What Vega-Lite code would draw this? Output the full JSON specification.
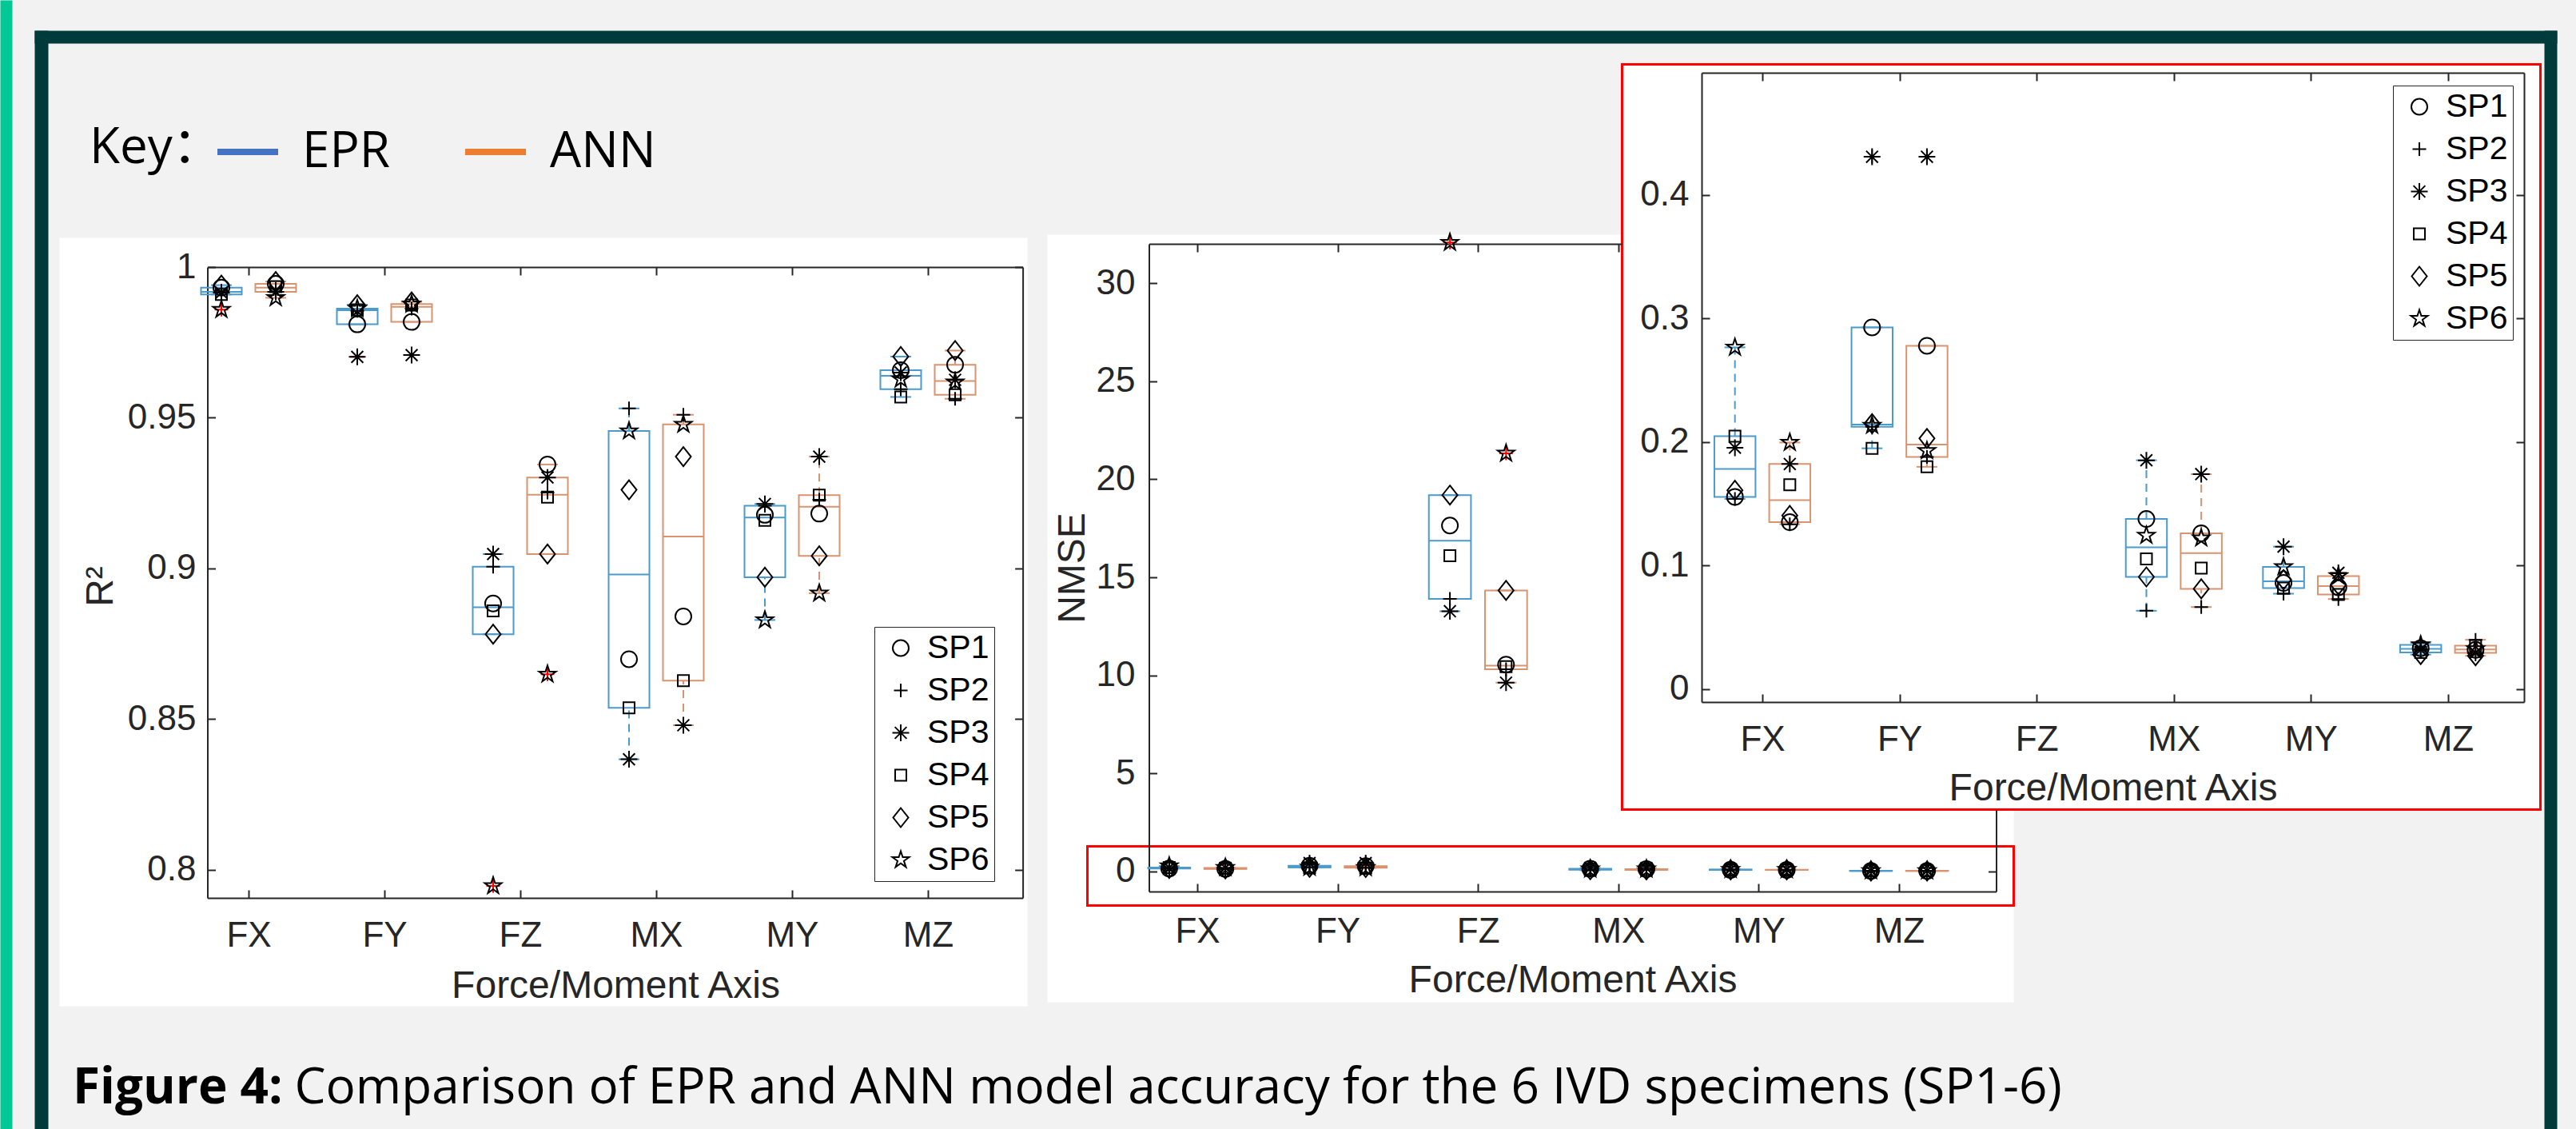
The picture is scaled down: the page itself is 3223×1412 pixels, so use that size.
{
"$schema": "https://vega.github.io/schema/vega-lite/v6.json",
"width": 3223, "height": 1412, "autosize": {"type": "none"}, "padding": 0,
"background": "#f2f2f2",
"config": {
  "view": {"stroke": null},
  "axis": {"grid": false, "domainColor": "#262626", "domainWidth": 2, "tickColor": "#262626", "tickWidth": 2, "tickSize": -10, "labelColor": "#262626", "labelFont": "Liberation Sans", "labelFontSize": 44, "titleColor": "#262626", "titleFont": "Liberation Sans", "titleFontSize": 48, "titleFontWeight": "normal", "labelFlush": false, "labelOverlap": false, "labelBound": false},
  "legend": {"labelFont": "Liberation Sans"}
},
"title": {"text": "Figure 4:", "orient": "bottom", "anchor": "start", "frame": "group", "offset": -81, "dx": 91, "font": "Open Sans", "fontSize": 62, "fontWeight": "bold", "color": "#000000"},
"datasets": {
"pts": [
{"m":"R2","axis":"FX","model":"EPR","sp":"SP1","v":0.9932},{"m":"R2","axis":"FX","model":"EPR","sp":"SP2","v":0.9921},{"m":"R2","axis":"FX","model":"EPR","sp":"SP3","v":0.9915},{"m":"R2","axis":"FX","model":"EPR","sp":"SP4","v":0.9909},{"m":"R2","axis":"FX","model":"EPR","sp":"SP5","v":0.994},{"m":"R2","axis":"FX","model":"EPR","sp":"SP6","v":0.9859,"out":true},
{"m":"R2","axis":"FX","model":"ANN","sp":"SP1","v":0.9944},{"m":"R2","axis":"FX","model":"ANN","sp":"SP2","v":0.9928},{"m":"R2","axis":"FX","model":"ANN","sp":"SP3","v":0.9918},{"m":"R2","axis":"FX","model":"ANN","sp":"SP4","v":0.9935},{"m":"R2","axis":"FX","model":"ANN","sp":"SP5","v":0.9952},{"m":"R2","axis":"FX","model":"ANN","sp":"SP6","v":0.9898},
{"m":"R2","axis":"FY","model":"EPR","sp":"SP1","v":0.981},{"m":"R2","axis":"FY","model":"EPR","sp":"SP2","v":0.9855},{"m":"R2","axis":"FY","model":"EPR","sp":"SP3","v":0.9702,"out":true},{"m":"R2","axis":"FY","model":"EPR","sp":"SP4","v":0.9858},{"m":"R2","axis":"FY","model":"EPR","sp":"SP5","v":0.9875},{"m":"R2","axis":"FY","model":"EPR","sp":"SP6","v":0.9862},
{"m":"R2","axis":"FY","model":"ANN","sp":"SP1","v":0.9818},{"m":"R2","axis":"FY","model":"ANN","sp":"SP2","v":0.9862},{"m":"R2","axis":"FY","model":"ANN","sp":"SP3","v":0.9708,"out":true},{"m":"R2","axis":"FY","model":"ANN","sp":"SP4","v":0.9874},{"m":"R2","axis":"FY","model":"ANN","sp":"SP5","v":0.9884},{"m":"R2","axis":"FY","model":"ANN","sp":"SP6","v":0.9877},
{"m":"R2","axis":"FZ","model":"EPR","sp":"SP1","v":0.8884},{"m":"R2","axis":"FZ","model":"EPR","sp":"SP2","v":0.9006},{"m":"R2","axis":"FZ","model":"EPR","sp":"SP3","v":0.9048},{"m":"R2","axis":"FZ","model":"EPR","sp":"SP4","v":0.8859},{"m":"R2","axis":"FZ","model":"EPR","sp":"SP5","v":0.8782},{"m":"R2","axis":"FZ","model":"EPR","sp":"SP6","v":0.7947,"out":true},
{"m":"R2","axis":"FZ","model":"ANN","sp":"SP1","v":0.9345},{"m":"R2","axis":"FZ","model":"ANN","sp":"SP2","v":0.9252},{"m":"R2","axis":"FZ","model":"ANN","sp":"SP3","v":0.9302},{"m":"R2","axis":"FZ","model":"ANN","sp":"SP4","v":0.9237},{"m":"R2","axis":"FZ","model":"ANN","sp":"SP5","v":0.9048},{"m":"R2","axis":"FZ","model":"ANN","sp":"SP6","v":0.8649,"out":true},
{"m":"R2","axis":"MX","model":"EPR","sp":"SP1","v":0.8699},{"m":"R2","axis":"MX","model":"EPR","sp":"SP2","v":0.9531},{"m":"R2","axis":"MX","model":"EPR","sp":"SP3","v":0.8367},{"m":"R2","axis":"MX","model":"EPR","sp":"SP4","v":0.8538},{"m":"R2","axis":"MX","model":"EPR","sp":"SP5","v":0.9261},{"m":"R2","axis":"MX","model":"EPR","sp":"SP6","v":0.9456},
{"m":"R2","axis":"MX","model":"ANN","sp":"SP1","v":0.8841},{"m":"R2","axis":"MX","model":"ANN","sp":"SP2","v":0.951},{"m":"R2","axis":"MX","model":"ANN","sp":"SP3","v":0.848},{"m":"R2","axis":"MX","model":"ANN","sp":"SP4","v":0.8628},{"m":"R2","axis":"MX","model":"ANN","sp":"SP5","v":0.9371},{"m":"R2","axis":"MX","model":"ANN","sp":"SP6","v":0.9478},
{"m":"R2","axis":"MY","model":"EPR","sp":"SP1","v":0.9178},{"m":"R2","axis":"MY","model":"EPR","sp":"SP2","v":0.9208},{"m":"R2","axis":"MY","model":"EPR","sp":"SP3","v":0.9214},{"m":"R2","axis":"MY","model":"EPR","sp":"SP4","v":0.916},{"m":"R2","axis":"MY","model":"EPR","sp":"SP5","v":0.8971},{"m":"R2","axis":"MY","model":"EPR","sp":"SP6","v":0.8829},
{"m":"R2","axis":"MY","model":"ANN","sp":"SP1","v":0.9182},{"m":"R2","axis":"MY","model":"ANN","sp":"SP2","v":0.9228},{"m":"R2","axis":"MY","model":"ANN","sp":"SP3","v":0.9371},{"m":"R2","axis":"MY","model":"ANN","sp":"SP4","v":0.9243},{"m":"R2","axis":"MY","model":"ANN","sp":"SP5","v":0.9042},{"m":"R2","axis":"MY","model":"ANN","sp":"SP6","v":0.8918},
{"m":"R2","axis":"MZ","model":"EPR","sp":"SP1","v":0.9658},{"m":"R2","axis":"MZ","model":"EPR","sp":"SP2","v":0.9595},{"m":"R2","axis":"MZ","model":"EPR","sp":"SP3","v":0.965},{"m":"R2","axis":"MZ","model":"EPR","sp":"SP4","v":0.9569},{"m":"R2","axis":"MZ","model":"EPR","sp":"SP5","v":0.9703},{"m":"R2","axis":"MZ","model":"EPR","sp":"SP6","v":0.9628},
{"m":"R2","axis":"MZ","model":"ANN","sp":"SP1","v":0.9676},{"m":"R2","axis":"MZ","model":"ANN","sp":"SP2","v":0.9563},{"m":"R2","axis":"MZ","model":"ANN","sp":"SP3","v":0.9626},{"m":"R2","axis":"MZ","model":"ANN","sp":"SP4","v":0.9576},{"m":"R2","axis":"MZ","model":"ANN","sp":"SP5","v":0.9723},{"m":"R2","axis":"MZ","model":"ANN","sp":"SP6","v":0.9618},
{"m":"NMSE","axis":"FX","model":"EPR","sp":"SP1","v":0.1557},{"m":"NMSE","axis":"FX","model":"EPR","sp":"SP2","v":0.154},{"m":"NMSE","axis":"FX","model":"EPR","sp":"SP3","v":0.1955},{"m":"NMSE","axis":"FX","model":"EPR","sp":"SP4","v":0.2048},{"m":"NMSE","axis":"FX","model":"EPR","sp":"SP5","v":0.161},{"m":"NMSE","axis":"FX","model":"EPR","sp":"SP6","v":0.2767},
{"m":"NMSE","axis":"FX","model":"ANN","sp":"SP1","v":0.1352},{"m":"NMSE","axis":"FX","model":"ANN","sp":"SP2","v":0.1335},{"m":"NMSE","axis":"FX","model":"ANN","sp":"SP3","v":0.1823},{"m":"NMSE","axis":"FX","model":"ANN","sp":"SP4","v":0.1655},{"m":"NMSE","axis":"FX","model":"ANN","sp":"SP5","v":0.1406},{"m":"NMSE","axis":"FX","model":"ANN","sp":"SP6","v":0.1997},
{"m":"NMSE","axis":"FY","model":"EPR","sp":"SP1","v":0.2929},{"m":"NMSE","axis":"FY","model":"EPR","sp":"SP2","v":0.2125},{"m":"NMSE","axis":"FY","model":"EPR","sp":"SP3","v":0.431,"out":true},{"m":"NMSE","axis":"FY","model":"EPR","sp":"SP4","v":0.195},{"m":"NMSE","axis":"FY","model":"EPR","sp":"SP5","v":0.215},{"m":"NMSE","axis":"FY","model":"EPR","sp":"SP6","v":0.2135},
{"m":"NMSE","axis":"FY","model":"ANN","sp":"SP1","v":0.278},{"m":"NMSE","axis":"FY","model":"ANN","sp":"SP2","v":0.188},{"m":"NMSE","axis":"FY","model":"ANN","sp":"SP3","v":0.431,"out":true},{"m":"NMSE","axis":"FY","model":"ANN","sp":"SP4","v":0.18},{"m":"NMSE","axis":"FY","model":"ANN","sp":"SP5","v":0.203},{"m":"NMSE","axis":"FY","model":"ANN","sp":"SP6","v":0.193},
{"m":"NMSE","axis":"FZ","model":"EPR","sp":"SP1","v":17.64},{"m":"NMSE","axis":"FZ","model":"EPR","sp":"SP2","v":13.9},{"m":"NMSE","axis":"FZ","model":"EPR","sp":"SP3","v":13.27},{"m":"NMSE","axis":"FZ","model":"EPR","sp":"SP4","v":16.1},{"m":"NMSE","axis":"FZ","model":"EPR","sp":"SP5","v":19.19},{"m":"NMSE","axis":"FZ","model":"EPR","sp":"SP6","v":32.07,"out":true},
{"m":"NMSE","axis":"FZ","model":"ANN","sp":"SP1","v":10.55},{"m":"NMSE","axis":"FZ","model":"ANN","sp":"SP2","v":10.31},{"m":"NMSE","axis":"FZ","model":"ANN","sp":"SP3","v":9.63},{"m":"NMSE","axis":"FZ","model":"ANN","sp":"SP4","v":10.45},{"m":"NMSE","axis":"FZ","model":"ANN","sp":"SP5","v":14.33},{"m":"NMSE","axis":"FZ","model":"ANN","sp":"SP6","v":21.32,"out":true},
{"m":"NMSE","axis":"MX","model":"EPR","sp":"SP1","v":0.1378},{"m":"NMSE","axis":"MX","model":"EPR","sp":"SP2","v":0.0635},{"m":"NMSE","axis":"MX","model":"EPR","sp":"SP3","v":0.1853},{"m":"NMSE","axis":"MX","model":"EPR","sp":"SP4","v":0.1054},{"m":"NMSE","axis":"MX","model":"EPR","sp":"SP5","v":0.0909},{"m":"NMSE","axis":"MX","model":"EPR","sp":"SP6","v":0.1244},
{"m":"NMSE","axis":"MX","model":"ANN","sp":"SP1","v":0.1262},{"m":"NMSE","axis":"MX","model":"ANN","sp":"SP2","v":0.0665},{"m":"NMSE","axis":"MX","model":"ANN","sp":"SP3","v":0.1741},{"m":"NMSE","axis":"MX","model":"ANN","sp":"SP4","v":0.098},{"m":"NMSE","axis":"MX","model":"ANN","sp":"SP5","v":0.0812},{"m":"NMSE","axis":"MX","model":"ANN","sp":"SP6","v":0.1223},
{"m":"NMSE","axis":"MY","model":"EPR","sp":"SP1","v":0.086},{"m":"NMSE","axis":"MY","model":"EPR","sp":"SP2","v":0.0773},{"m":"NMSE","axis":"MY","model":"EPR","sp":"SP3","v":0.1154},{"m":"NMSE","axis":"MY","model":"EPR","sp":"SP4","v":0.0819},{"m":"NMSE","axis":"MY","model":"EPR","sp":"SP5","v":0.0886},{"m":"NMSE","axis":"MY","model":"EPR","sp":"SP6","v":0.099},
{"m":"NMSE","axis":"MY","model":"ANN","sp":"SP1","v":0.0825},{"m":"NMSE","axis":"MY","model":"ANN","sp":"SP2","v":0.073},{"m":"NMSE","axis":"MY","model":"ANN","sp":"SP3","v":0.0942},{"m":"NMSE","axis":"MY","model":"ANN","sp":"SP4","v":0.0767},{"m":"NMSE","axis":"MY","model":"ANN","sp":"SP5","v":0.0843},{"m":"NMSE","axis":"MY","model":"ANN","sp":"SP6","v":0.0916},
{"m":"NMSE","axis":"MZ","model":"EPR","sp":"SP1","v":0.0332},{"m":"NMSE","axis":"MZ","model":"EPR","sp":"SP2","v":0.0375},{"m":"NMSE","axis":"MZ","model":"EPR","sp":"SP3","v":0.032},{"m":"NMSE","axis":"MZ","model":"EPR","sp":"SP4","v":0.0298},{"m":"NMSE","axis":"MZ","model":"EPR","sp":"SP5","v":0.028},{"m":"NMSE","axis":"MZ","model":"EPR","sp":"SP6","v":0.0358},
{"m":"NMSE","axis":"MZ","model":"ANN","sp":"SP1","v":0.0318},{"m":"NMSE","axis":"MZ","model":"ANN","sp":"SP2","v":0.04},{"m":"NMSE","axis":"MZ","model":"ANN","sp":"SP3","v":0.0294},{"m":"NMSE","axis":"MZ","model":"ANN","sp":"SP4","v":0.0352},{"m":"NMSE","axis":"MZ","model":"ANN","sp":"SP5","v":0.027},{"m":"NMSE","axis":"MZ","model":"ANN","sp":"SP6","v":0.0326}
],
"box": [
{"m":"R2","axis":"FX","model":"EPR","lo":0.9909,"q1":0.9909,"med":0.9918,"q3":0.9932,"hi":0.994},
{"m":"R2","axis":"FX","model":"ANN","lo":0.9898,"q1":0.9918,"med":0.99315,"q3":0.9944,"hi":0.9952},
{"m":"R2","axis":"FY","model":"EPR","lo":0.981,"q1":0.981,"med":0.98565,"q3":0.9862,"hi":0.9875},
{"m":"R2","axis":"FY","model":"ANN","lo":0.9818,"q1":0.9818,"med":0.9868,"q3":0.9877,"hi":0.9884},
{"m":"R2","axis":"FZ","model":"EPR","lo":0.8782,"q1":0.8782,"med":0.88715,"q3":0.9006,"hi":0.9048},
{"m":"R2","axis":"FZ","model":"ANN","lo":0.9048,"q1":0.9048,"med":0.92445,"q3":0.9302,"hi":0.9345},
{"m":"R2","axis":"MX","model":"EPR","lo":0.8367,"q1":0.8538,"med":0.898,"q3":0.9456,"hi":0.9531},
{"m":"R2","axis":"MX","model":"ANN","lo":0.848,"q1":0.8628,"med":0.9106,"q3":0.9478,"hi":0.951},
{"m":"R2","axis":"MY","model":"EPR","lo":0.8829,"q1":0.8971,"med":0.9169,"q3":0.9208,"hi":0.9214},
{"m":"R2","axis":"MY","model":"ANN","lo":0.8918,"q1":0.9042,"med":0.9205,"q3":0.9243,"hi":0.9371},
{"m":"R2","axis":"MZ","model":"EPR","lo":0.9569,"q1":0.9595,"med":0.9639,"q3":0.9658,"hi":0.9703},
{"m":"R2","axis":"MZ","model":"ANN","lo":0.9563,"q1":0.9576,"med":0.9622,"q3":0.9676,"hi":0.9723},
{"m":"NMSE","axis":"FX","model":"EPR","lo":0.154,"q1":0.1557,"med":0.17825,"q3":0.2048,"hi":0.2767},
{"m":"NMSE","axis":"FX","model":"ANN","lo":0.1335,"q1":0.1352,"med":0.15305,"q3":0.1823,"hi":0.1997},
{"m":"NMSE","axis":"FY","model":"EPR","lo":0.195,"q1":0.2125,"med":0.21425,"q3":0.2929,"hi":0.2929},
{"m":"NMSE","axis":"FY","model":"ANN","lo":0.18,"q1":0.188,"med":0.198,"q3":0.278,"hi":0.278},
{"m":"NMSE","axis":"FZ","model":"EPR","lo":13.27,"q1":13.9,"med":16.87,"q3":19.19,"hi":19.19},
{"m":"NMSE","axis":"FZ","model":"ANN","lo":9.63,"q1":10.31,"med":10.5,"q3":14.33,"hi":14.33},
{"m":"NMSE","axis":"MX","model":"EPR","lo":0.0635,"q1":0.0909,"med":0.1149,"q3":0.1378,"hi":0.1853},
{"m":"NMSE","axis":"MX","model":"ANN","lo":0.0665,"q1":0.0812,"med":0.11015,"q3":0.1262,"hi":0.1741},
{"m":"NMSE","axis":"MY","model":"EPR","lo":0.0773,"q1":0.0819,"med":0.0873,"q3":0.099,"hi":0.1154},
{"m":"NMSE","axis":"MY","model":"ANN","lo":0.073,"q1":0.0767,"med":0.0834,"q3":0.0916,"hi":0.0942},
{"m":"NMSE","axis":"MZ","model":"EPR","lo":0.028,"q1":0.0298,"med":0.0326,"q3":0.0358,"hi":0.0375},
{"m":"NMSE","axis":"MZ","model":"ANN","lo":0.027,"q1":0.0294,"med":0.0322,"q3":0.0352,"hi":0.04}
]
},
"resolve": {"scale": {"x": "independent", "y": "independent", "xOffset": "independent", "shape": "independent", "stroke": "independent", "color": "independent"}},
"layer": [
{"data": {"values": [{}]}, "mark": {"type": "point", "opacity": 0},
 "encoding": {
  "x": {"datum": 0, "type": "quantitative", "scale": {"domain": [0, 1], "range": [43, 3199]}, "axis": {"orient": "top", "offset": -46, "ticks": false, "labels": false, "domainColor": "#003b3c", "domainWidth": 16, "domainCap": "butt",
        "title": "Comparison of EPR and ANN model accuracy for the 6 IVD specimens (SP1-6)", "titleX": 368, "titleY": 1333, "titleAlign": "left", "titleBaseline": "alphabetic", "titleAngle": 0, "titleFont": "Open Sans", "titleFontSize": 62, "titleFontWeight": "normal", "titleColor": "#000000"}},
  "y": {"datum": 0, "type": "quantitative", "scale": {"domain": [0, 1], "range": [0, 1412]}, "axis": {"orient": "left", "offset": -7.5, "ticks": false, "labels": false, "title": null, "domainColor": "#00c896", "domainWidth": 15, "domainCap": "butt"}}
 }},
{"data": {"values": [{}]}, "mark": {"type": "point", "opacity": 0},
 "encoding": {
  "x": {"datum": 0, "type": "quantitative", "scale": {"domain": [0, 1], "range": [74, 1285]}, "axis": {"orient": "top", "offset": -777.5, "ticks": false, "labels": false, "title": null, "domainColor": "#ffffff", "domainWidth": 961, "domainCap": "butt"}},
  "y": {"datum": 0, "type": "quantitative", "scale": {"domain": [0, 1], "range": [38, 1412]}, "axis": {"orient": "left", "offset": -51.5, "ticks": false, "labels": false, "title": null, "domainColor": "#003b3c", "domainWidth": 17, "domainCap": "butt"}}
 }},
{"data": {"values": [{}]}, "mark": {"type": "point", "opacity": 0},
 "encoding": {
  "x": {"datum": 0, "type": "quantitative", "scale": {"domain": [0, 1], "range": [1310, 2519]}, "axis": {"orient": "top", "offset": -773, "ticks": false, "labels": false, "title": null, "domainColor": "#ffffff", "domainWidth": 960, "domainCap": "butt"}},
  "y": {"datum": 0, "type": "quantitative", "scale": {"domain": [0, 1], "range": [38, 1412]}, "axis": {"orient": "left", "offset": -3191, "ticks": false, "labels": false, "title": null, "domainColor": "#003b3c", "domainWidth": 16, "domainCap": "butt"}}
 }},
{"data": {"values": [{}]}, "mark": {"type": "point", "opacity": 0},
 "encoding": {
  "x": {"datum": 0, "type": "quantitative", "scale": {"domain": [0, 1], "range": [2027.5, 3179.5]}, "axis": {"orient": "top", "offset": -546, "ticks": false, "labels": false, "title": null, "domainColor": "#ff0000", "domainWidth": 935, "domainCap": "butt"}}
 }},
{"data": {"values": [{}]}, "mark": {"type": "point", "opacity": 0},
 "encoding": {
  "x": {"datum": 0, "type": "quantitative", "scale": {"domain": [0, 1], "range": [2030.5, 3176.5]}, "axis": {"orient": "top", "offset": -546, "ticks": false, "labels": false, "title": null, "domainColor": "#ffffff", "domainWidth": 929, "domainCap": "butt"}}
 }},
{"data": {"values": [{}]}, "mark": {"type": "point", "opacity": 0},
 "encoding": {
  "x": {"datum": 1, "type": "quantitative", "scale": {"domain": [0.697, 6.698], "range": [259.5, 1279.6], "nice": false, "zero": false},
        "axis": {"orient": "bottom", "offset": -289, "values": [1, 2, 3, 4, 5, 6], "labelExpr": "['FX','FY','FZ','MX','MY','MZ'][datum.value - 1]", "labelPadding": 35, "title": "Force/Moment Axis", "titleX": 770, "titleY": 124, "titleAlign": "center", "titleBaseline": "alphabetic"}},
  "y": {"datum": 1, "type": "quantitative", "scale": {"domain": [0.7907, 1], "range": [1123, 334], "nice": false, "zero": false},
        "axis": {"orient": "left", "offset": -259.5, "values": [0.8, 0.85, 0.9, 0.95, 1], "format": "~g", "labelPadding": 24.5, "title": "R²", "titleX": -119.5, "titleY": 733, "titleAlign": "center", "titleBaseline": "alphabetic", "titleAngle": -90}}
 }},
{"data": {"values": [{}]}, "mark": {"type": "point", "opacity": 0},
 "encoding": {
  "x": {"datum": 1, "type": "quantitative", "scale": {"domain": [0.697, 6.698], "range": [259.5, 1279.6], "nice": false, "zero": false},
        "axis": {"orient": "top", "offset": -334, "values": [1, 2, 3, 4, 5, 6], "labels": false, "title": null}},
  "y": {"datum": 1, "type": "quantitative", "scale": {"domain": [0.7907, 1], "range": [1123, 334], "nice": false, "zero": false},
        "axis": {"orient": "right", "offset": -1943.4, "values": [0.8, 0.85, 0.9, 0.95, 1], "labels": false, "title": null}}
 }},
{"data": {"values": [{}]}, "mark": {"type": "point", "opacity": 0},
 "encoding": {
  "x": {"datum": 1, "type": "quantitative", "scale": {"domain": [0.6555, 6.692], "range": [1437.5, 2497.5], "nice": false, "zero": false},
        "axis": {"orient": "bottom", "offset": -297, "values": [1, 2, 3, 4, 5, 6], "labelExpr": "['FX','FY','FZ','MX','MY','MZ'][datum.value - 1]", "labelPadding": 38, "title": "Force/Moment Axis", "titleX": 1967.5, "titleY": 125.7, "titleAlign": "center", "titleBaseline": "alphabetic"}},
  "y": {"datum": 1, "type": "quantitative", "scale": {"domain": [-1.02, 32], "range": [1115, 305], "nice": false, "zero": false},
        "axis": {"orient": "left", "offset": -1437.5, "values": [0, 5, 10, 15, 20, 25, 30], "format": "d", "labelPadding": 27.5, "title": "NMSE", "titleX": -81.5, "titleY": 710, "titleAlign": "center", "titleBaseline": "alphabetic", "titleAngle": -90}}
 }},
{"data": {"values": [{}]}, "mark": {"type": "point", "opacity": 0},
 "encoding": {
  "x": {"datum": 1, "type": "quantitative", "scale": {"domain": [0.6555, 4.024], "range": [1437.5, 2029], "nice": false, "zero": false},
        "axis": {"orient": "top", "offset": -305, "values": [1, 2, 3, 4], "labels": false, "title": null}},
  "y": {"datum": 0, "type": "quantitative", "scale": {"domain": [-1.02, 3.138], "range": [1115, 1013], "nice": false, "zero": false},
        "axis": {"orient": "right", "offset": -725.5, "values": [0], "labels": false, "title": null}}
 }},
{"data": {"values": [{}]}, "mark": {"type": "point", "opacity": 0},
 "encoding": {
  "x": {"datum": 1, "type": "quantitative", "scale": {"domain": [0.557, 6.554], "range": [2129, 3158], "nice": false, "zero": false},
        "axis": {"orient": "bottom", "offset": -534, "values": [1, 2, 3, 4, 5, 6], "labelExpr": "['FX','FY','FZ','MX','MY','MZ'][datum.value - 1]", "labelPadding": 35, "title": "Force/Moment Axis", "titleX": 2643.5, "titleY": 122, "titleAlign": "center", "titleBaseline": "alphabetic"}},
  "y": {"datum": 0, "type": "quantitative", "scale": {"domain": [-0.0104, 0.499], "range": [878, 91], "nice": false, "zero": false},
        "axis": {"orient": "left", "offset": -2129, "values": [0, 0.1, 0.2, 0.3, 0.4], "format": "~g", "labelPadding": 26, "title": null}}
 }},
{"data": {"values": [{}]}, "mark": {"type": "point", "opacity": 0},
 "encoding": {
  "x": {"datum": 1, "type": "quantitative", "scale": {"domain": [0.557, 6.554], "range": [2129, 3158], "nice": false, "zero": false},
        "axis": {"orient": "top", "offset": -91, "values": [1, 2, 3, 4, 5, 6], "labels": false, "title": null}},
  "y": {"datum": 0, "type": "quantitative", "scale": {"domain": [-0.0104, 0.499], "range": [878, 91], "nice": false, "zero": false},
        "axis": {"orient": "right", "offset": -65, "values": [0, 0.1, 0.2, 0.3, 0.4], "labels": false, "title": null}}
 }},
{"data": {"values": [{}]}, "mark": {"type": "point", "opacity": 0},
 "encoding": {
  "x": {"datum": 0, "type": "quantitative", "scale": {"domain": [0, 1], "range": [1358.5, 2520.5]}, "axis": {"orient": "top", "offset": -1058, "ticks": false, "labels": false, "title": null, "domainColor": "#ff0000", "domainWidth": 3, "domainCap": "butt"}},
  "y": {"datum": 0, "type": "quantitative", "scale": {"domain": [0, 1], "range": [1058, 1132]}, "axis": {"orient": "left", "offset": -1360, "ticks": false, "labels": false, "title": null, "domainColor": "#ff0000", "domainWidth": 3, "domainCap": "butt"}}
 }},
{"data": {"values": [{}]}, "mark": {"type": "point", "opacity": 0},
 "encoding": {
  "x": {"datum": 0, "type": "quantitative", "scale": {"domain": [0, 1], "range": [1358.5, 2520.5]}, "axis": {"orient": "top", "offset": -1132, "ticks": false, "labels": false, "title": null, "domainColor": "#ff0000", "domainWidth": 3, "domainCap": "butt"}},
  "y": {"datum": 0, "type": "quantitative", "scale": {"domain": [0, 1], "range": [1058, 1132]}, "axis": {"orient": "left", "offset": -2519, "ticks": false, "labels": false, "title": null, "domainColor": "#ff0000", "domainWidth": 3, "domainCap": "butt"}}
 }},
{
 "encoding": {
  "x": {"field": "axis", "type": "nominal", "scale": {"type": "band", "domain": ["FX","FY","FZ","MX","MY","MZ"], "range": [251.5, 1220.5], "paddingInner": 0.3, "paddingOuter": 0}, "axis": null},
  "xOffset": {"field": "model", "type": "nominal", "scale": {"domain": ["EPR","ANN"], "paddingInner": 0.25, "paddingOuter": 0}}
 },
 "layer": [
  {"data": {"name": "box"}, "transform": [{"filter": {"field": "m", "equal": "R2"}}], "mark": {"type": "rule", "strokeWidth": 2, "strokeDash": [10, 7]},
   "encoding": {"y": {"field": "q3", "type": "quantitative", "scale": {"domain": [0.7907, 1], "range": [1123, 334], "nice": false, "zero": false}, "axis": null}, "y2": {"field": "hi"}, "stroke": {"field": "model", "type": "nominal", "scale": {"domain": ["EPR","ANN"], "range": ["#4b9bcc", "#d9946f"]}, "legend": null}}},
  {"data": {"name": "box"}, "transform": [{"filter": {"field": "m", "equal": "R2"}}], "mark": {"type": "rule", "strokeWidth": 2, "strokeDash": [10, 7]},
   "encoding": {"y": {"field": "lo", "type": "quantitative", "scale": {"domain": [0.7907, 1], "range": [1123, 334], "nice": false, "zero": false}, "axis": null}, "y2": {"field": "q1"}, "stroke": {"field": "model", "type": "nominal", "scale": {"domain": ["EPR","ANN"], "range": ["#4b9bcc", "#d9946f"]}, "legend": null}}},
  {"data": {"name": "box"}, "transform": [{"filter": {"field": "m", "equal": "R2"}}], "mark": {"type": "tick", "thickness": 2, "size": 26, "opacity": 1},
   "encoding": {"y": {"field": "hi", "type": "quantitative", "scale": {"domain": [0.7907, 1], "range": [1123, 334], "nice": false, "zero": false}, "axis": null}, "color": {"field": "model", "type": "nominal", "scale": {"domain": ["EPR","ANN"], "range": ["#4b9bcc", "#d9946f"]}, "legend": null}}},
  {"data": {"name": "box"}, "transform": [{"filter": {"field": "m", "equal": "R2"}}], "mark": {"type": "tick", "thickness": 2, "size": 26, "opacity": 1},
   "encoding": {"y": {"field": "lo", "type": "quantitative", "scale": {"domain": [0.7907, 1], "range": [1123, 334], "nice": false, "zero": false}, "axis": null}, "color": {"field": "model", "type": "nominal", "scale": {"domain": ["EPR","ANN"], "range": ["#4b9bcc", "#d9946f"]}, "legend": null}}},
  {"data": {"name": "box"}, "transform": [{"filter": {"field": "m", "equal": "R2"}}], "mark": {"type": "rect", "filled": false, "strokeWidth": 2},
   "encoding": {"y": {"field": "q1", "type": "quantitative", "scale": {"domain": [0.7907, 1], "range": [1123, 334], "nice": false, "zero": false}, "axis": null}, "y2": {"field": "q3"}, "stroke": {"field": "model", "type": "nominal", "scale": {"domain": ["EPR","ANN"], "range": ["#4b9bcc", "#d9946f"]}, "legend": null}}},
  {"data": {"name": "box"}, "transform": [{"filter": {"field": "m", "equal": "R2"}}], "mark": {"type": "rect", "filled": false, "strokeWidth": 2},
   "encoding": {"y": {"field": "med", "type": "quantitative", "scale": {"domain": [0.7907, 1], "range": [1123, 334], "nice": false, "zero": false}, "axis": null}, "y2": {"field": "med"}, "stroke": {"field": "model", "type": "nominal", "scale": {"domain": ["EPR","ANN"], "range": ["#4b9bcc", "#d9946f"]}, "legend": null}}},
  {"data": {"name": "pts"}, "transform": [{"filter": {"and": [{"field": "m", "equal": "R2"}, {"field": "out", "equal": true}]}}], "mark": {"type": "point", "shape": "M-0.85,0H0.85M0,-0.85V0.85", "filled": false, "stroke": "#ff0000", "strokeWidth": 2, "size": 400, "opacity": 1},
   "encoding": {"y": {"field": "v", "type": "quantitative", "scale": {"domain": [0.7907, 1], "range": [1123, 334], "nice": false, "zero": false}, "axis": null}}},
  {"data": {"name": "pts"}, "transform": [{"filter": {"field": "m", "equal": "R2"}}], "mark": {"type": "point", "filled": false, "stroke": "#000000", "strokeWidth": 2, "size": 400, "opacity": 1},
   "encoding": {"y": {"field": "v", "type": "quantitative", "scale": {"domain": [0.7907, 1], "range": [1123, 334], "nice": false, "zero": false}, "axis": null},
     "shape": {"field": "sp", "type": "nominal", "scale": {"domain": ["SP1","SP2","SP3","SP4","SP5","SP6"], "range": ["circle", "M-0.85,0H0.85M0,-0.85V0.85", "M-1.05,0H1.05M0,-1.05V1.05M-0.74,-0.74L0.74,0.74M-0.74,0.74L0.74,-0.74", "M-0.7,-0.7H0.7V0.7H-0.7Z", "M0,-1.2L0.95,0L0,1.2L-0.95,0Z", "M0,-1.1L0.247,-0.34L1.046,-0.34L0.399,0.13L0.647,0.89L0,0.42L-0.647,0.89L-0.399,0.13L-1.046,-0.34L-0.247,-0.34Z"]},
       "legend": {"orient": "none", "legendX": 1094, "legendY": 784, "title": null, "padding": 6, "strokeColor": "#262626", "fillColor": "#ffffff", "labelFont": "Liberation Sans", "labelFontSize": 41, "labelColor": "#000000", "symbolSize": 400, "symbolStrokeWidth": 2, "symbolStrokeColor": "#000000", "symbolFillColor": "transparent", "symbolOpacity": 1, "rowPadding": 11, "labelOffset": 12.5, "symbolOffset": 6.5}}}}
 ]
},
{
 "encoding": {
  "x": {"field": "axis", "type": "nominal", "scale": {"type": "band", "domain": ["FX","FY","FZ","MX","MY","MZ"], "range": [1436.54, 2437.46], "paddingInner": 0.3, "paddingOuter": 0}, "axis": null},
  "xOffset": {"field": "model", "type": "nominal", "scale": {"domain": ["EPR","ANN"], "paddingInner": 0.25, "paddingOuter": 0}}
 },
 "layer": [
  {"data": {"name": "box"}, "transform": [{"filter": {"field": "m", "equal": "NMSE"}}], "mark": {"type": "rule", "strokeWidth": 2, "strokeDash": [10, 7]},
   "encoding": {"y": {"field": "q3", "type": "quantitative", "scale": {"domain": [-1.02, 32], "range": [1115, 305], "nice": false, "zero": false}, "axis": null}, "y2": {"field": "hi"}, "stroke": {"field": "model", "type": "nominal", "scale": {"domain": ["EPR","ANN"], "range": ["#4b9bcc", "#d9946f"]}, "legend": null}}},
  {"data": {"name": "box"}, "transform": [{"filter": {"field": "m", "equal": "NMSE"}}], "mark": {"type": "rule", "strokeWidth": 2, "strokeDash": [10, 7]},
   "encoding": {"y": {"field": "lo", "type": "quantitative", "scale": {"domain": [-1.02, 32], "range": [1115, 305], "nice": false, "zero": false}, "axis": null}, "y2": {"field": "q1"}, "stroke": {"field": "model", "type": "nominal", "scale": {"domain": ["EPR","ANN"], "range": ["#4b9bcc", "#d9946f"]}, "legend": null}}},
  {"data": {"name": "box"}, "transform": [{"filter": {"field": "m", "equal": "NMSE"}}], "mark": {"type": "tick", "thickness": 2, "size": 26, "opacity": 1},
   "encoding": {"y": {"field": "hi", "type": "quantitative", "scale": {"domain": [-1.02, 32], "range": [1115, 305], "nice": false, "zero": false}, "axis": null}, "color": {"field": "model", "type": "nominal", "scale": {"domain": ["EPR","ANN"], "range": ["#4b9bcc", "#d9946f"]}, "legend": null}}},
  {"data": {"name": "box"}, "transform": [{"filter": {"field": "m", "equal": "NMSE"}}], "mark": {"type": "tick", "thickness": 2, "size": 26, "opacity": 1},
   "encoding": {"y": {"field": "lo", "type": "quantitative", "scale": {"domain": [-1.02, 32], "range": [1115, 305], "nice": false, "zero": false}, "axis": null}, "color": {"field": "model", "type": "nominal", "scale": {"domain": ["EPR","ANN"], "range": ["#4b9bcc", "#d9946f"]}, "legend": null}}},
  {"data": {"name": "box"}, "transform": [{"filter": {"field": "m", "equal": "NMSE"}}], "mark": {"type": "rect", "filled": false, "strokeWidth": 2},
   "encoding": {"y": {"field": "q1", "type": "quantitative", "scale": {"domain": [-1.02, 32], "range": [1115, 305], "nice": false, "zero": false}, "axis": null}, "y2": {"field": "q3"}, "stroke": {"field": "model", "type": "nominal", "scale": {"domain": ["EPR","ANN"], "range": ["#4b9bcc", "#d9946f"]}, "legend": null}}},
  {"data": {"name": "box"}, "transform": [{"filter": {"field": "m", "equal": "NMSE"}}], "mark": {"type": "rect", "filled": false, "strokeWidth": 2},
   "encoding": {"y": {"field": "med", "type": "quantitative", "scale": {"domain": [-1.02, 32], "range": [1115, 305], "nice": false, "zero": false}, "axis": null}, "y2": {"field": "med"}, "stroke": {"field": "model", "type": "nominal", "scale": {"domain": ["EPR","ANN"], "range": ["#4b9bcc", "#d9946f"]}, "legend": null}}},
  {"data": {"name": "pts"}, "transform": [{"filter": {"and": [{"field": "m", "equal": "NMSE"}, {"field": "out", "equal": true}]}}], "mark": {"type": "point", "shape": "M-0.85,0H0.85M0,-0.85V0.85", "filled": false, "stroke": "#ff0000", "strokeWidth": 2, "size": 400, "opacity": 1},
   "encoding": {"y": {"field": "v", "type": "quantitative", "scale": {"domain": [-1.02, 32], "range": [1115, 305], "nice": false, "zero": false}, "axis": null}}},
  {"data": {"name": "pts"}, "transform": [{"filter": {"field": "m", "equal": "NMSE"}}], "mark": {"type": "point", "filled": false, "stroke": "#000000", "strokeWidth": 2, "size": 400, "opacity": 1},
   "encoding": {"y": {"field": "v", "type": "quantitative", "scale": {"domain": [-1.02, 32], "range": [1115, 305], "nice": false, "zero": false}, "axis": null},
     "shape": {"field": "sp", "type": "nominal", "scale": {"domain": ["SP1","SP2","SP3","SP4","SP5","SP6"], "range": ["circle", "M-0.85,0H0.85M0,-0.85V0.85", "M-1.05,0H1.05M0,-1.05V1.05M-0.74,-0.74L0.74,0.74M-0.74,0.74L0.74,-0.74", "M-0.7,-0.7H0.7V0.7H-0.7Z", "M0,-1.2L0.95,0L0,1.2L-0.95,0Z", "M0,-1.1L0.247,-0.34L1.046,-0.34L0.399,0.13L0.647,0.89L0,0.42L-0.647,0.89L-0.399,0.13L-1.046,-0.34L-0.247,-0.34Z"]}, "legend": null}}}
 ]
},
{
 "encoding": {
  "x": {"field": "axis", "type": "nominal", "scale": {"type": "band", "domain": ["FX","FY","FZ","MX","MY","MZ"], "range": [2144.94, 3123.06], "paddingInner": 0.3, "paddingOuter": 0}, "axis": null},
  "xOffset": {"field": "model", "type": "nominal", "scale": {"domain": ["EPR","ANN"], "paddingInner": 0.25, "paddingOuter": 0}}
 },
 "layer": [
  {"data": {"name": "box"}, "transform": [{"filter": {"and": [{"field": "m", "equal": "NMSE"}, {"not": {"field": "axis", "equal": "FZ"}}]}}], "mark": {"type": "rule", "strokeWidth": 2, "strokeDash": [10, 7]},
   "encoding": {"y": {"field": "q3", "type": "quantitative", "scale": {"domain": [-0.0104, 0.499], "range": [878, 91], "nice": false, "zero": false}, "axis": null}, "y2": {"field": "hi"}, "stroke": {"field": "model", "type": "nominal", "scale": {"domain": ["EPR","ANN"], "range": ["#4b9bcc", "#d9946f"]}, "legend": null}}},
  {"data": {"name": "box"}, "transform": [{"filter": {"and": [{"field": "m", "equal": "NMSE"}, {"not": {"field": "axis", "equal": "FZ"}}]}}], "mark": {"type": "rule", "strokeWidth": 2, "strokeDash": [10, 7]},
   "encoding": {"y": {"field": "lo", "type": "quantitative", "scale": {"domain": [-0.0104, 0.499], "range": [878, 91], "nice": false, "zero": false}, "axis": null}, "y2": {"field": "q1"}, "stroke": {"field": "model", "type": "nominal", "scale": {"domain": ["EPR","ANN"], "range": ["#4b9bcc", "#d9946f"]}, "legend": null}}},
  {"data": {"name": "box"}, "transform": [{"filter": {"and": [{"field": "m", "equal": "NMSE"}, {"not": {"field": "axis", "equal": "FZ"}}]}}], "mark": {"type": "tick", "thickness": 2, "size": 26, "opacity": 1},
   "encoding": {"y": {"field": "hi", "type": "quantitative", "scale": {"domain": [-0.0104, 0.499], "range": [878, 91], "nice": false, "zero": false}, "axis": null}, "color": {"field": "model", "type": "nominal", "scale": {"domain": ["EPR","ANN"], "range": ["#4b9bcc", "#d9946f"]}, "legend": null}}},
  {"data": {"name": "box"}, "transform": [{"filter": {"and": [{"field": "m", "equal": "NMSE"}, {"not": {"field": "axis", "equal": "FZ"}}]}}], "mark": {"type": "tick", "thickness": 2, "size": 26, "opacity": 1},
   "encoding": {"y": {"field": "lo", "type": "quantitative", "scale": {"domain": [-0.0104, 0.499], "range": [878, 91], "nice": false, "zero": false}, "axis": null}, "color": {"field": "model", "type": "nominal", "scale": {"domain": ["EPR","ANN"], "range": ["#4b9bcc", "#d9946f"]}, "legend": null}}},
  {"data": {"name": "box"}, "transform": [{"filter": {"and": [{"field": "m", "equal": "NMSE"}, {"not": {"field": "axis", "equal": "FZ"}}]}}], "mark": {"type": "rect", "filled": false, "strokeWidth": 2},
   "encoding": {"y": {"field": "q1", "type": "quantitative", "scale": {"domain": [-0.0104, 0.499], "range": [878, 91], "nice": false, "zero": false}, "axis": null}, "y2": {"field": "q3"}, "stroke": {"field": "model", "type": "nominal", "scale": {"domain": ["EPR","ANN"], "range": ["#4b9bcc", "#d9946f"]}, "legend": null}}},
  {"data": {"name": "box"}, "transform": [{"filter": {"and": [{"field": "m", "equal": "NMSE"}, {"not": {"field": "axis", "equal": "FZ"}}]}}], "mark": {"type": "rect", "filled": false, "strokeWidth": 2},
   "encoding": {"y": {"field": "med", "type": "quantitative", "scale": {"domain": [-0.0104, 0.499], "range": [878, 91], "nice": false, "zero": false}, "axis": null}, "y2": {"field": "med"}, "stroke": {"field": "model", "type": "nominal", "scale": {"domain": ["EPR","ANN"], "range": ["#4b9bcc", "#d9946f"]}, "legend": null}}},
  {"data": {"name": "pts"}, "transform": [{"filter": {"and": [{"field": "m", "equal": "NMSE"}, {"not": {"field": "axis", "equal": "FZ"}}, {"field": "out", "equal": true}]}}], "mark": {"type": "point", "shape": "M-0.85,0H0.85M0,-0.85V0.85", "filled": false, "stroke": "#ff0000", "strokeWidth": 2, "size": 400, "opacity": 1},
   "encoding": {"y": {"field": "v", "type": "quantitative", "scale": {"domain": [-0.0104, 0.499], "range": [878, 91], "nice": false, "zero": false}, "axis": null}}},
  {"data": {"name": "pts"}, "transform": [{"filter": {"and": [{"field": "m", "equal": "NMSE"}, {"not": {"field": "axis", "equal": "FZ"}}]}}], "mark": {"type": "point", "filled": false, "stroke": "#000000", "strokeWidth": 2, "size": 400, "opacity": 1},
   "encoding": {"y": {"field": "v", "type": "quantitative", "scale": {"domain": [-0.0104, 0.499], "range": [878, 91], "nice": false, "zero": false}, "axis": null},
     "shape": {"field": "sp", "type": "nominal", "scale": {"domain": ["SP1","SP2","SP3","SP4","SP5","SP6"], "range": ["circle", "M-0.85,0H0.85M0,-0.85V0.85", "M-1.05,0H1.05M0,-1.05V1.05M-0.74,-0.74L0.74,0.74M-0.74,0.74L0.74,-0.74", "M-0.7,-0.7H0.7V0.7H-0.7Z", "M0,-1.2L0.95,0L0,1.2L-0.95,0Z", "M0,-1.1L0.247,-0.34L1.046,-0.34L0.399,0.13L0.647,0.89L0,0.42L-0.647,0.89L-0.399,0.13L-1.046,-0.34L-0.247,-0.34Z"]},
       "legend": {"orient": "none", "legendX": 2994, "legendY": 107, "title": null, "padding": 6, "strokeColor": "#262626", "fillColor": "#ffffff", "labelFont": "Liberation Sans", "labelFontSize": 41, "labelColor": "#000000", "symbolSize": 400, "symbolStrokeWidth": 2, "symbolStrokeColor": "#000000", "symbolFillColor": "transparent", "symbolOpacity": 1, "rowPadding": 11, "labelOffset": 12.5, "symbolOffset": 6.5}}}}
 ]
},
{"data": {"values": [{"model": "EPR"}, {"model": "ANN"}]}, "mark": {"type": "point", "opacity": 0},
 "encoding": {
  "color": {"field": "model", "type": "nominal", "scale": {"domain": ["EPR", "ANN"], "range": ["#4472c4", "#ed7d31"]},
   "legend": {"orient": "none", "legendX": 112, "legendY": 148, "direction": "horizontal", "title": "Key：", "titleOrient": "left", "titleAnchor": "middle", "titleBaseline": "middle", "titleFont": "Open Sans, Noto Sans CJK SC", "titleFontSize": 62, "titleFontWeight": "normal", "titleColor": "#000000", "titlePadding": -10, "labelFont": "Open Sans", "labelFontSize": 62, "labelColor": "#000000", "labelOffset": 26, "columnPadding": 77, "symbolType": "M-1,0H1", "symbolSize": 5776, "symbolStrokeWidth": 8, "symbolOpacity": 1, "padding": 0}}
 }}
]
}
